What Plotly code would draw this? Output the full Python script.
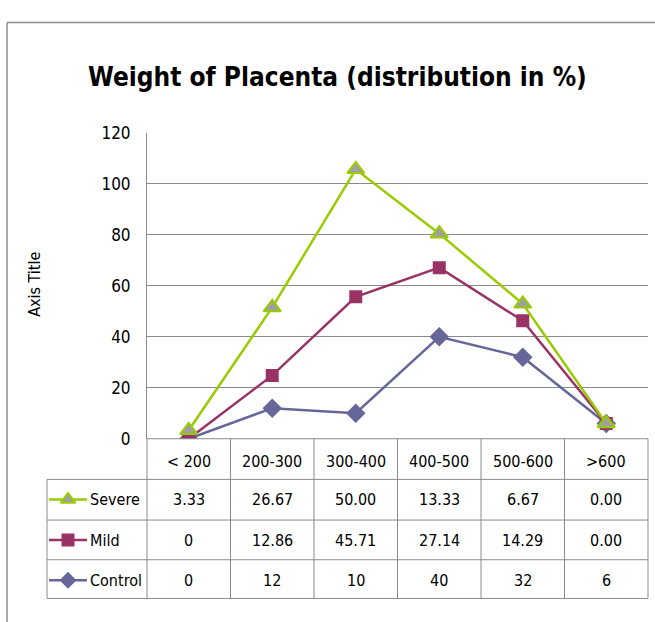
import plotly.graph_objects as go

categories = ["< 200", "200-300", "300-400", "400-500", "500-600", ">600"]
series_names = ["Severe", "Mild", "Control"]
severe_vals = ["3.33", "26.67", "50.00", "13.33", "6.67", "0.00"]
mild_vals = ["0", "12.86", "45.71", "27.14", "14.29", "0.00"]
control_vals = ["0", "12", "10", "40", "32", "6"]
y_ticks = [0, 20, 40, 60, 80, 100, 120]
title_text = "Weight of Placenta (distribution in %)"
y_title = "Axis Title"

W, H = 655, 622
PL, PR, PT, PB = 147, 648, 127, 443  # plot area in px

def px(x):
    return x / W

def py(y):
    return 1 - y / H

FONT = "Liberation Sans Narrow, DejaVu Sans Condensed, sans-serif"
GRID = "#8a8a8a"
colors = {"Severe": "#99CC00", "Mild": "#993366", "Control": "#666699"}
symbols = {"Severe": "triangle-up", "Mild": "square", "Control": "diamond"}

ctrl = [float(v) for v in control_vals]
mild = [float(v) for v in mild_vals]
sev = [float(v) for v in severe_vals]
mild_stack = [a + b for a, b in zip(ctrl, mild)]
sev_stack = [a + b for a, b in zip(mild_stack, sev)]

fig = go.Figure()
fig.add_trace(go.Scatter(x=categories, y=ctrl, mode="lines+markers", name="Control",
                         line=dict(color=colors["Control"], width=2.5),
                         marker=dict(symbol="diamond", size=15, color=colors["Control"])))
fig.add_trace(go.Scatter(x=categories, y=mild_stack, mode="lines+markers", name="Mild",
                         line=dict(color=colors["Mild"], width=2.5),
                         marker=dict(symbol="square", size=13, color=colors["Mild"])))
fig.add_trace(go.Scatter(x=categories, y=sev_stack, mode="lines+markers", name="Severe",
                         line=dict(color=colors["Severe"], width=2.5),
                         marker=dict(symbol="triangle-up", size=15, color="#A0A0A0",
                                     line=dict(color=colors["Severe"], width=2))))

# legend keys in the data table, drawn on their own small axes
row_centers = [506, 548, 589]
for r, name in enumerate(series_names):
    mcol = "#A0A0A0" if name == "Severe" else colors[name]
    mline = dict(color=colors[name], width=2) if name == "Severe" else dict(width=0)
    fig.add_trace(go.Scatter(x=[0, 1, 2], y=[-r, -r, -r], mode="lines", xaxis="x2", yaxis="y2",
                             line=dict(color=colors[name], width=2.5), showlegend=False,
                             hoverinfo="skip"))
    fig.add_trace(go.Scatter(x=[1], y=[-r], mode="markers", xaxis="x2", yaxis="y2",
                             marker=dict(symbol=symbols[name], size=13, color=mcol, line=mline),
                             showlegend=False, hoverinfo="skip"))

fig.update_layout(
    width=W, height=H,
    margin=dict(l=0, r=0, t=0, b=0),
    paper_bgcolor="white", plot_bgcolor="white",
    showlegend=False,
    font=dict(family=FONT, color="#000000", size=16),
    xaxis=dict(domain=[px(PL), px(PR)], type="category", range=[-0.5, 5.5],
               showticklabels=False, showgrid=False, zeroline=False,
               showline=False, fixedrange=True),
    yaxis=dict(domain=[py(PB), py(PT)], range=[0, 120], tickvals=y_ticks,
               showgrid=True, gridcolor=GRID, gridwidth=1, zeroline=False,
               showline=True, linecolor=GRID, linewidth=1,
               ticks="", ticklabelstandoff=12,
               tickfont=dict(family=FONT, size=17, color="#000000")),
    xaxis2=dict(domain=[px(49), px(87)], range=[0, 2], visible=False, fixedrange=True),
    yaxis2=dict(domain=[py(row_centers[2] + 21), py(row_centers[0] - 21)],
                range=[-2.5, 0.5], visible=False, fixedrange=True),
)

shapes = []
# outer chart border (cropped)
shapes.append(dict(type="line", xref="paper", yref="paper", x0=px(7), x1=px(7), y0=py(13), y1=py(640),
                   line=dict(color="#8c8c8c", width=1.5)))
shapes.append(dict(type="line", xref="paper", yref="paper", x0=px(7), x1=px(700), y0=py(13), y1=py(13),
                   line=dict(color="#8c8c8c", width=1.5)))
# x axis line at 0
shapes.append(dict(type="line", xref="paper", yref="paper", x0=px(PL), x1=px(PR), y0=py(PB), y1=py(PB),
                   line=dict(color=GRID, width=1)))
# table horizontal lines
row_lines = [485, 527, 568, 608]
for yy in row_lines:
    shapes.append(dict(type="line", xref="paper", yref="paper", x0=px(47), x1=px(PR), y0=py(yy), y1=py(yy),
                       line=dict(color=GRID, width=1)))
# table vertical lines
colw = (PR - PL) / len(categories)
for i in range(len(categories) + 1):
    xx = PL + i * colw
    shapes.append(dict(type="line", xref="paper", yref="paper", x0=px(xx), x1=px(xx), y0=py(PB), y1=py(row_lines[-1]),
                       line=dict(color=GRID, width=1)))
shapes.append(dict(type="line", xref="paper", yref="paper", x0=px(47), x1=px(47), y0=py(row_lines[0]), y1=py(row_lines[-1]),
                   line=dict(color=GRID, width=1)))

annotations = []
annotations.append(dict(text=f"<b>{title_text}</b>", xref="paper", yref="paper", x=px(337), y=py(69),
                        showarrow=False, xanchor="center", yanchor="middle",
                        font=dict(family=FONT, size=26, color="#000000")))
annotations.append(dict(text=y_title, xref="paper", yref="paper", x=px(35), y=py(284),
                        showarrow=False, textangle=-90, xanchor="center", yanchor="middle",
                        font=dict(family=FONT, size=16, color="#000000")))
header_y = 466
for c in categories:
    annotations.append(dict(text=c, x=c, xref="x", y=py(header_y), yref="paper", showarrow=False,
                            xanchor="center", yanchor="middle", font=dict(family=FONT, size=16)))
for name, vals, yc in zip(series_names, [severe_vals, mild_vals, control_vals], row_centers):
    annotations.append(dict(text=name, xref="paper", yref="paper", x=px(88), y=py(yc), showarrow=False,
                            xanchor="left", yanchor="middle", font=dict(family=FONT, size=16)))
    for c, v in zip(categories, vals):
        annotations.append(dict(text=v, x=c, xref="x", y=py(yc), yref="paper", showarrow=False,
                                xanchor="center", yanchor="middle", font=dict(family=FONT, size=16)))

fig.update_layout(shapes=shapes, annotations=annotations)
fig.write_html("out.html", config={"displayModeBar": False},
               post_script="document.body.style.margin='0px';document.body.style.overflow='hidden';")
